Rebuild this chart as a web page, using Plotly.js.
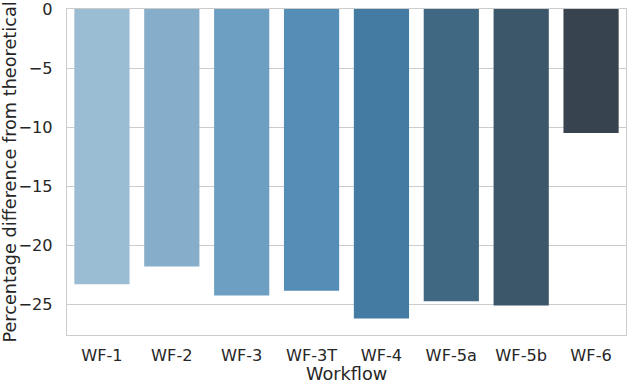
<!DOCTYPE html>
<html>
<head>
<meta charset="utf-8">
<script src="https://cdn.plot.ly/plotly-3.0.1.min.js"></script>
<style>html,body{margin:0;padding:0;background:#fff;}#chart{width:627px;height:381px;}</style>
</head>
<body>
<div id="chart"></div>
<script>
const categories = ["WF-1","WF-2","WF-3","WF-3T","WF-4","WF-5a","WF-5b","WF-6"];
const values = [-23.3, -21.8, -24.25, -23.85, -26.2, -24.75, -25.1, -10.5];
const colors = ["#9bbdd4","#86adc9","#6c9fc1","#548db6","#447ba2","#416883","#3c566a","#37444f"];
const yTickVals = [0, -5, -10, -15, -20, -25];
const yTickText = ["0", "\u22125", "\u221210", "\u221215", "\u221220", "\u221225"];
const xTitle = "Workflow";
const yTitle = "Percentage difference from theoretical";

const trace = {
  type: "bar",
  x: categories,
  y: values,
  marker: {color: colors, line: {width: 0}},
  hoverinfo: "skip"
};

const TS = 16.2;  // tick label size
const LS = 17.7;  // axis label size
const layout = {
  width: 627, height: 381,
  margin: {l: 67, r: 1, t: 9, b: 46, pad: 0},
  paper_bgcolor: "#ffffff",
  plot_bgcolor: "#ffffff",
  font: {family: "DejaVu Sans, sans-serif", size: TS, color: "#262626"},
  bargap: 0.21,
  showlegend: false,
  xaxis: {
    type: "category",
    range: [-0.5, 7.5],
    showgrid: false,
    zeroline: false,
    showline: true, mirror: true, linecolor: "#cccccc", linewidth: 1.2,
    ticks: "", ticklabelstandoff: 5,
    tickfont: {size: TS, color: "#262626"},
    automargin: false
  },
  yaxis: {
    range: [-27.6, 0],
    tickvals: yTickVals,
    ticktext: yTickText,
    ticklabeloverflow: "allow",
    showgrid: true, gridcolor: "#cccccc", gridwidth: 1,
    zeroline: false,
    showline: true, mirror: true, linecolor: "#cccccc", linewidth: 1.2,
    ticks: "", ticklabelstandoff: 10,
    tickfont: {size: TS, color: "#262626"},
    title: {text: yTitle, font: {size: LS, color: "#262626"}, standoff: 6},
    automargin: false
  },
  annotations: [{
    text: xTitle, xref: "paper", yref: "paper", x: 0.5, y: 0,
    xanchor: "center", yanchor: "top", yshift: -27, showarrow: false,
    font: {size: LS, color: "#262626"}
  }]
};

Plotly.newPlot("chart", [trace], layout, {displayModeBar: false, staticPlot: true});
</script>
</body>
</html>
